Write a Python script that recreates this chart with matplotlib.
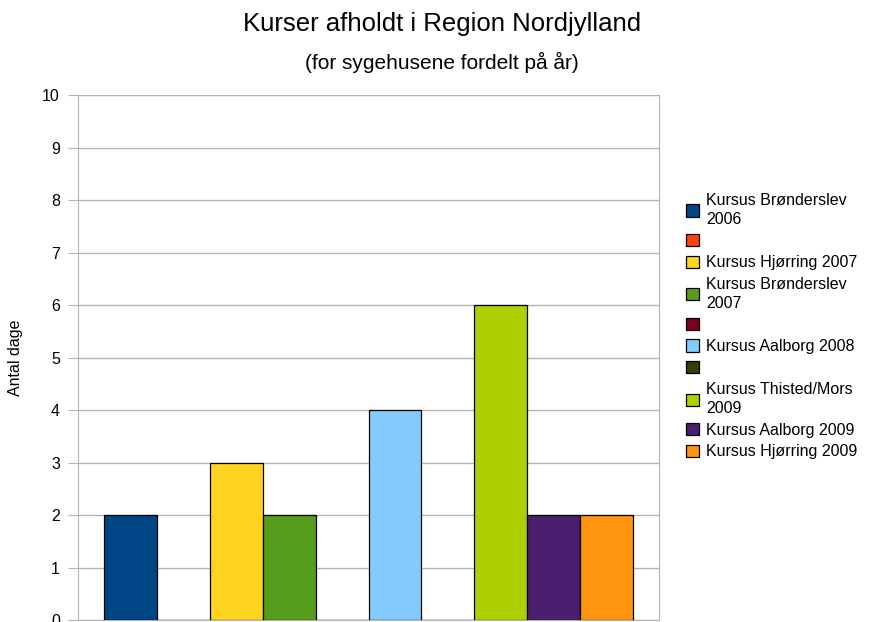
import matplotlib
matplotlib.use('Agg')
import matplotlib.pyplot as plt
import numpy as np

plt.rcParams['font.family'] = ['Liberation Sans', 'DejaVu Sans']

labels = ['Kursus Brønderslev\n2006', ' ', 'Kursus Hjørring 2007',
          'Kursus Brønderslev\n2007', ' ', 'Kursus Aalborg 2008', ' ',
          'Kursus Thisted/Mors\n2009', 'Kursus Aalborg 2009',
          'Kursus Hjørring 2009']
values = [2, np.nan, 3, 2, np.nan, 4, np.nan, 6, 2, 2]
colors = ['#004586', '#ff420e', '#ffd320', '#579d1c', '#7e0021',
          '#83caff', '#314004', '#aecf00', '#4b1f6f', '#ff950e']

fig = plt.figure(figsize=(8.7, 6.22), dpi=100)
ax = fig.add_axes([0.0897, 0.0032, 0.668, 0.844])

n = len(values)
w = 1.0 / (n + 1)
handles = []
for i in range(n):
    x = -0.5 + w * (i + 1)
    b = ax.bar(x, 0 if np.isnan(values[i]) else values[i], width=w,
               color=colors[i], edgecolor='black', linewidth=0.9, zorder=3)
    handles.append(b)

ax.set_xlim(-0.5, 0.5)
ax.set_ylim(0, 10)
ax.set_yticks(range(0, 11))
ax.set_xticks([])
ax.grid(axis='y', color='#b3b3b3', linewidth=1, zorder=0)
for s in ax.spines.values():
    s.set_color('#b3b3b3')
ax.tick_params(axis='y', colors='#b3b3b3', labelcolor='black',
               labelsize=11.5, length=7, pad=6)
ax.set_ylabel('Antal dage', fontsize=11.5, labelpad=14)

fig.text(0.508, 0.962, 'Kurser afholdt i Region Nordjylland',
         ha='center', va='center', fontsize=18.5)
fig.text(0.508, 0.9, '(for sygehusene fordelt på år)',
         ha='center', va='center', fontsize=15)

leg = ax.legend(handles, labels, loc='upper left', bbox_to_anchor=(1.035, 0.825),
                frameon=False, fontsize=11.5, handlelength=0.8, handleheight=0.8,
                handletextpad=0.45, labelspacing=0.42, borderaxespad=0)
for t in leg.get_texts():
    t.set_linespacing(1.3)

fig.savefig('out.png', dpi=100)
